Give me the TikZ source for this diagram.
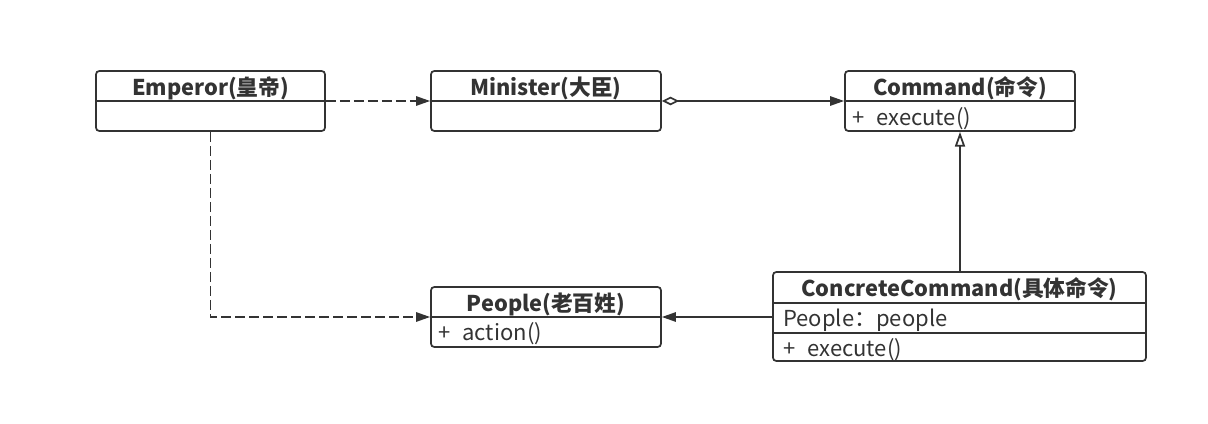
\documentclass[tikz,border=0pt]{standalone}
\usepackage{fontspec}
\setmainfont{Noto Sans CJK SC}
\usetikzlibrary{arrows.meta}
\definecolor{ink}{HTML}{333333}
\tikzset{
  box/.style={draw=ink, line width=1.3pt, rounded corners=2.5pt, inner sep=0pt, fill=white},
  ttl/.style={text=ink, font=\fontsize{16.3pt}{18pt}\selectfont\bfseries, inner sep=0pt, anchor=center},
  body/.style={text=ink, font=\fontsize{16.5pt}{18pt}\selectfont, inner sep=0pt, anchor=west},
  sep/.style={draw=ink, line width=1.3pt},
  conn/.style={draw=ink, line width=1.3pt},
  dep/.style={conn, dash pattern=on 7.5pt off 3pt, -{Triangle[length=10.5pt,width=7pt]}},
  assoc/.style={conn, {Diamond[open,length=13pt,width=6.5pt]}-{Triangle[length=10.5pt,width=7pt]}},
  gen/.style={conn, -{Triangle[open,length=11pt,width=7.5pt]}},
  nav/.style={conn, -{Triangle[length=10.5pt,width=7pt]}}
}
\begin{document}
\begin{tikzpicture}[x=0.75pt,y=-0.75pt]
\useasboundingbox (0,0) rectangle (1208,424);
% boxes
\node[box, minimum width=229*0.75pt, minimum height=60*0.75pt] (emp) at (210.5,101) {};
\node[box, minimum width=230*0.75pt, minimum height=60*0.75pt] (min) at (546,101) {};
\node[box, minimum width=230*0.75pt, minimum height=60*0.75pt] (cmd) at (960,101) {};
\node[box, minimum width=230*0.75pt, minimum height=60*0.75pt] (ppl) at (546,317) {};
\node[box, minimum width=373*0.75pt, minimum height=89*0.75pt] (cc) at (959.5,316.5) {};
% dividers
\draw[sep] (emp.west |- 0,101) -- (emp.east |- 0,101);
\draw[sep] (min.west |- 0,101) -- (min.east |- 0,101);
\draw[sep] (cmd.west |- 0,101) -- (cmd.east |- 0,101);
\draw[sep] (ppl.west |- 0,317) -- (ppl.east |- 0,317);
\draw[sep] (cc.west |- 0,303) -- (cc.east |- 0,303);
\draw[sep] (cc.west |- 0,333) -- (cc.east |- 0,333);
% texts
\node[ttl] (empt) at (210.5,88) {Emperor(皇帝)};
\node[ttl] (mint) at (546,88) {Minister(大臣)};
\node[ttl] (cmdt) at (960,88) {Command(命令)};
\node[body] (cmdb) at (852,119) {+\hspace{0.55em}execute()};
\node[ttl] (pplt) at (546,304) {People(老百姓)};
\node[body] (pplb) at (438,334) {+\hspace{0.55em}action()};
\node[ttl] (cct) at (959.5,289) {ConcreteCommand(具体命令)};
\node[body] (cca) at (783,320) {People：people};
\node[body] (ccb) at (783,350) {+\hspace{0.55em}execute()};
% connectors
\draw[dep] (emp.east) -- (min.west);
\draw[assoc] (min.east) -- (cmd.west);
\draw[gen] (cc.north -| cmd.south) -- (cmd.south);
\draw[nav] (cc.west |- ppl.east) -- (ppl.east);
\draw[dep] (emp.south) |- (ppl.west);
\end{tikzpicture}
\end{document}
